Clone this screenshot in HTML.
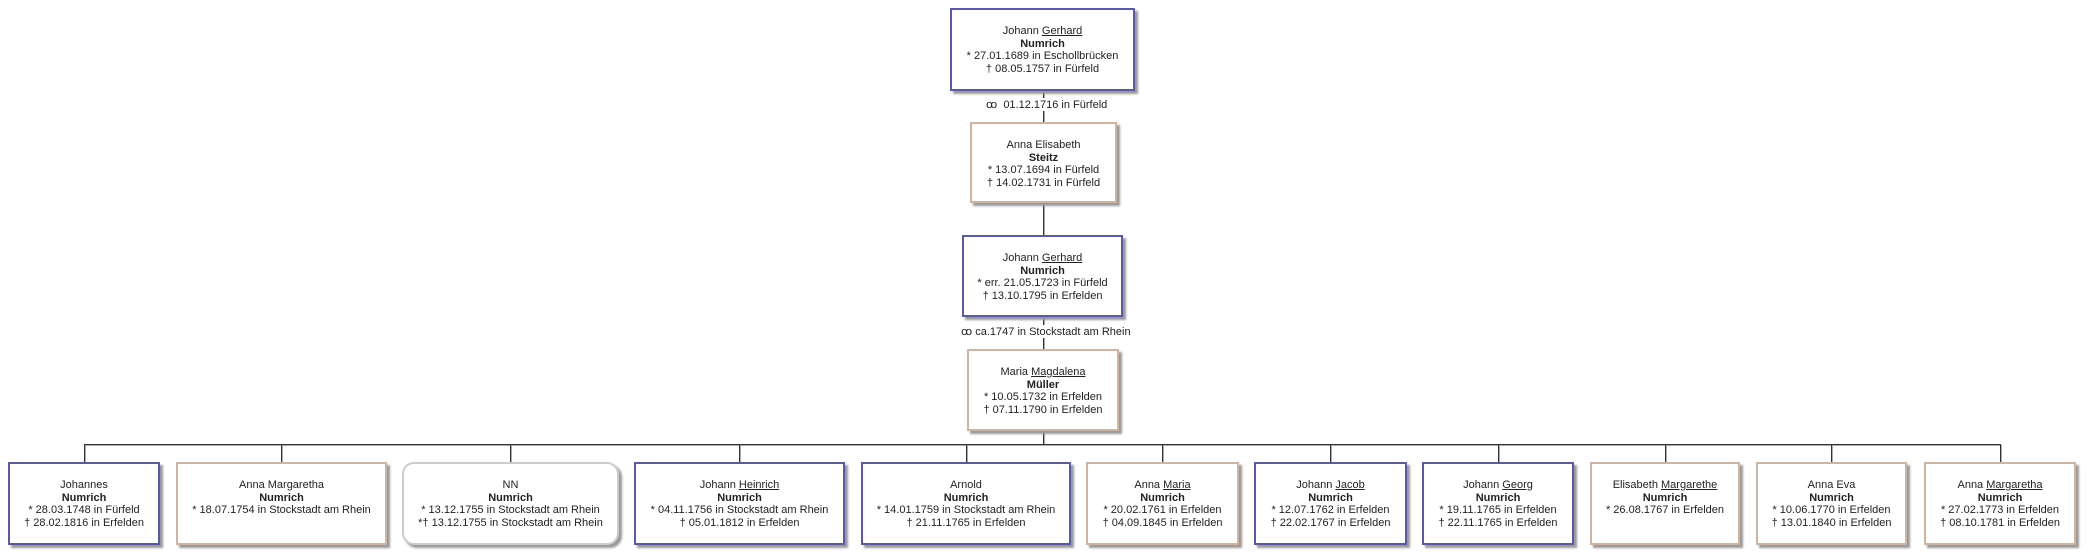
<!DOCTYPE html>
<html><head><meta charset="utf-8"><style>
body{margin:0;width:2092px;height:560px;background:#fff;position:relative;overflow:hidden;font-family:"Liberation Sans",sans-serif;font-size:11px;color:#222}
.b{position:absolute;box-sizing:border-box;background:#fff;text-align:center;line-height:12.5px;padding-top:15px;box-shadow:3px 3px 2px #999}
.m{border:2px solid #5a58a8}
.f{border:2px solid #d2b49e}
.n{border:2px solid #ccc;border-radius:12px}
.b b{font-weight:bold}
u{text-decoration:underline}
.v{position:absolute;width:1px;background:#333;border-right:1px solid #aaa}
.h{position:absolute;height:1px;background:#333;border-bottom:1px solid #aaa}
.l{position:absolute;font-size:11px;background:#fff;white-space:nowrap}
</style></head><body>
<div class="v" style="left:1043px;top:90px;height:34px"></div>
<div class="v" style="left:1043px;top:203px;height:33px"></div>
<div class="v" style="left:1043px;top:317px;height:33px"></div>
<div class="v" style="left:1043px;top:431px;height:14px"></div>
<div class="h" style="left:84px;top:444px;width:1917px"></div>
<div class="v" style="left:84px;top:445px;height:17px"></div>
<div class="v" style="left:281px;top:445px;height:17px"></div>
<div class="v" style="left:510px;top:445px;height:17px"></div>
<div class="v" style="left:739px;top:445px;height:17px"></div>
<div class="v" style="left:966px;top:445px;height:17px"></div>
<div class="v" style="left:1162px;top:445px;height:17px"></div>
<div class="v" style="left:1330px;top:445px;height:17px"></div>
<div class="v" style="left:1498px;top:445px;height:17px"></div>
<div class="v" style="left:1665px;top:445px;height:17px"></div>
<div class="v" style="left:1831px;top:445px;height:17px"></div>
<div class="v" style="left:2000px;top:445px;height:17px"></div>
<div class="l" style="left:986px;top:98px">ꝏ&nbsp; 01.12.1716 in Fürfeld</div>
<div class="l" style="left:961px;top:325px">ꝏ ca.1747 in Stockstadt am Rhein</div>

<div class="b m" style="left:950px;top:8px;width:185px;height:83px">Johann <u>Gerhard</u><br><b>Numrich</b><br>* 27.01.1689 in Eschollbrücken<br>† 08.05.1757 in Fürfeld</div>
<div class="b f" style="left:970px;top:122px;width:147px;height:81px">Anna Elisabeth<br><b>Steitz</b><br>* 13.07.1694 in Fürfeld<br>† 14.02.1731 in Fürfeld</div>
<div class="b m" style="left:962px;top:235px;width:161px;height:82px">Johann <u>Gerhard</u><br><b>Numrich</b><br>* err. 21.05.1723 in Fürfeld<br>† 13.10.1795 in Erfelden</div>
<div class="b f" style="left:967px;top:349px;width:152px;height:82px">Maria <u>Magdalena</u><br><b>Müller</b><br>* 10.05.1732 in Erfelden<br>† 07.11.1790 in Erfelden</div>

<div class="b m" style="left:8px;top:462px;width:152px;height:83px">Johannes<br><b>Numrich</b><br>* 28.03.1748 in Fürfeld<br>† 28.02.1816 in Erfelden</div>
<div class="b f" style="left:176px;top:462px;width:211px;height:83px">Anna Margaretha<br><b>Numrich</b><br>* 18.07.1754 in Stockstadt am Rhein</div>
<div class="b n" style="left:402px;top:462px;width:217px;height:83px">NN<br><b>Numrich</b><br>* 13.12.1755 in Stockstadt am Rhein<br>*† 13.12.1755 in Stockstadt am Rhein</div>
<div class="b m" style="left:634px;top:462px;width:211px;height:83px">Johann <u>Heinrich</u><br><b>Numrich</b><br>* 04.11.1756 in Stockstadt am Rhein<br>† 05.01.1812 in Erfelden</div>
<div class="b m" style="left:861px;top:462px;width:210px;height:83px">Arnold<br><b>Numrich</b><br>* 14.01.1759 in Stockstadt am Rhein<br>† 21.11.1765 in Erfelden</div>
<div class="b f" style="left:1086px;top:462px;width:153px;height:83px">Anna <u>Maria</u><br><b>Numrich</b><br>* 20.02.1761 in Erfelden<br>† 04.09.1845 in Erfelden</div>
<div class="b m" style="left:1254px;top:462px;width:153px;height:83px">Johann <u>Jacob</u><br><b>Numrich</b><br>* 12.07.1762 in Erfelden<br>† 22.02.1767 in Erfelden</div>
<div class="b m" style="left:1422px;top:462px;width:152px;height:83px">Johann <u>Georg</u><br><b>Numrich</b><br>* 19.11.1765 in Erfelden<br>† 22.11.1765 in Erfelden</div>
<div class="b f" style="left:1590px;top:462px;width:150px;height:83px">Elisabeth <u>Margarethe</u><br><b>Numrich</b><br>* 26.08.1767 in Erfelden</div>
<div class="b f" style="left:1756px;top:462px;width:151px;height:83px">Anna Eva<br><b>Numrich</b><br>* 10.06.1770 in Erfelden<br>† 13.01.1840 in Erfelden</div>
<div class="b f" style="left:1924px;top:462px;width:152px;height:83px">Anna <u>Margaretha</u><br><b>Numrich</b><br>* 27.02.1773 in Erfelden<br>† 08.10.1781 in Erfelden</div>
</body></html>
